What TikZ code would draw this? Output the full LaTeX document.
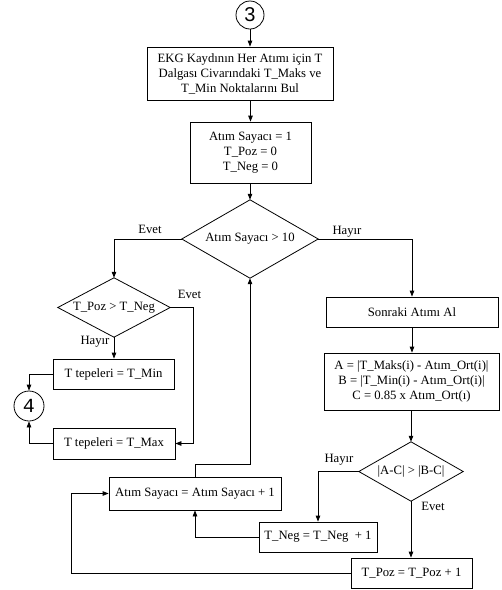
\documentclass[tikz,border=0pt]{standalone}
\usepackage{fontspec}
\setmainfont{Liberation Serif}
\newfontfamily\numsans{Liberation Sans}
\newfontfamily\nummono{Liberation Mono}
\usetikzlibrary{shapes.geometric,arrows.meta}
\begin{document}
\begin{tikzpicture}[x=1pt,y=-1pt,
  every node/.style={font=\fontsize{12.7}{15}\selectfont},
  procbox/.style={draw, line width=0.8pt, rectangle, inner sep=0pt, align=center},
  decbox/.style={rectangle, inner sep=0pt, align=center},
  conn/.style={draw, circle, line width=0.8pt, inner sep=0pt},
  flow/.style={line width=0.8pt, -{Triangle[length=6pt,width=4.5pt]}},
  outline/.style={line width=0.8pt, line join=miter},
  lbl/.style={inner sep=0pt}
]
\useasboundingbox (0,0) rectangle (502,590);

\node[conn, minimum size=28pt, font=\numsans\fontsize{20}{20}\selectfont] (c3) at (250,15) {3};
\node[procbox, minimum width=186pt, minimum height=53pt] (b1) at (240,73.5)
  {EKG Kaydının Her Atımı için T\\Dalgası Civarındaki T\_Maks ve\\T\_Min Noktalarını Bul};
\node[procbox, minimum width=121pt, minimum height=61pt] (b2) at (250.5,152.5)
  {Atım Sayacı = 1\\T\_Poz = 0\\T\_Neg = 0};
\node[decbox, minimum width=136pt, minimum height=78pt] (d1) at (250,239) {Atım Sayacı > 10};
\node[decbox, minimum width=112pt, minimum height=59pt] (d2) at (114,307.5) {T\_Poz > T\_Neg};
\node[procbox, minimum width=121pt, minimum height=30pt] (tmin) at (113.5,374) {T tepeleri = T\_Min};
\node[procbox, minimum width=122pt, minimum height=31pt] (tmax) at (114,443.5) {T tepeleri = T\_Max};
\node[conn, minimum size=30pt, font=\nummono\fontsize{20}{20}\selectfont] (c4) at (29,406) {4};
\node[procbox, minimum width=172pt, minimum height=33pt] (sayac) at (195,493.5) {Atım Sayacı = Atım Sayacı + 1};
\node[procbox, minimum width=172pt, minimum height=30pt] (sonraki) at (412,312) {Sonraki Atımı Al};
\node[procbox, minimum width=175pt, minimum height=57pt] (abc) at (411.5,381.5)
  {A = |T\_Maks(i) - Atım\_Ort(i)|\\B = |T\_Min(i) - Atım\_Ort(i)|\\C = 0.85 x Atım\_Ort(ı)};
\node[decbox, minimum width=104pt, minimum height=59pt] (d3) at (411,471.5) {|A-C| > |B-C|};
\node[procbox, minimum width=118pt, minimum height=30pt] (tneg) at (318,537) {T\_Neg = T\_Neg~~+ 1};
\node[procbox, minimum width=121pt, minimum height=30pt] (tpoz) at (411.5,573) {T\_Poz = T\_Poz + 1};

% diamond outlines
\foreach \d in {d1,d2,d3}
  \draw[outline] (\d.north) -- (\d.east) -- (\d.south) -- (\d.west) -- cycle;

% labels
\node[lbl] (l1) at (150,229) {Evet};
\node[lbl] (l2) at (347,232) {Hayır};
\node[lbl] (l3) at (189.5,294) {Evet};
\node[lbl] (l4) at (95,342) {Hayır};
\node[lbl] (l5) at (339,460) {Hayır};
\node[lbl] (l6) at (433,506) {Evet};

% connectors
\draw[flow] (c3.south) -- (c3.south |- b1.north);
\draw[flow] (b2.north |- b1.south) -- (b2.north);
\draw[flow] (d1.north |- b2.south) -- (d1.north);
\draw[flow] (d1.west) -| (d2.north);
\draw[flow] (d1.east) -| (sonraki.north);
\draw[flow] (d2.east) -- ++(23,0) |- (tmax.east);
\draw[flow] (d2.south) -- (d2.south |- tmin.north);
\draw[flow] (tmin.west) -| (c4.north);
\draw[flow] (tmax.west) -| (c4.south);
\draw[flow] (sayac.north) -- ++(0,-12) -| (d1.south);
\draw[flow] (sonraki.south) -- (sonraki.south |- abc.north);
\draw[flow] (d3.north |- abc.south) -- (d3.north);
\draw[flow] (d3.west) -| (tneg.north);
\draw[flow] (d3.south) -- (d3.south |- tpoz.north);
\draw[flow] (tneg.west) -| (sayac.south);
\draw[flow] (tpoz.west) -- ++(-279.5,0) |- (sayac.west);
\end{tikzpicture}
\end{document}
